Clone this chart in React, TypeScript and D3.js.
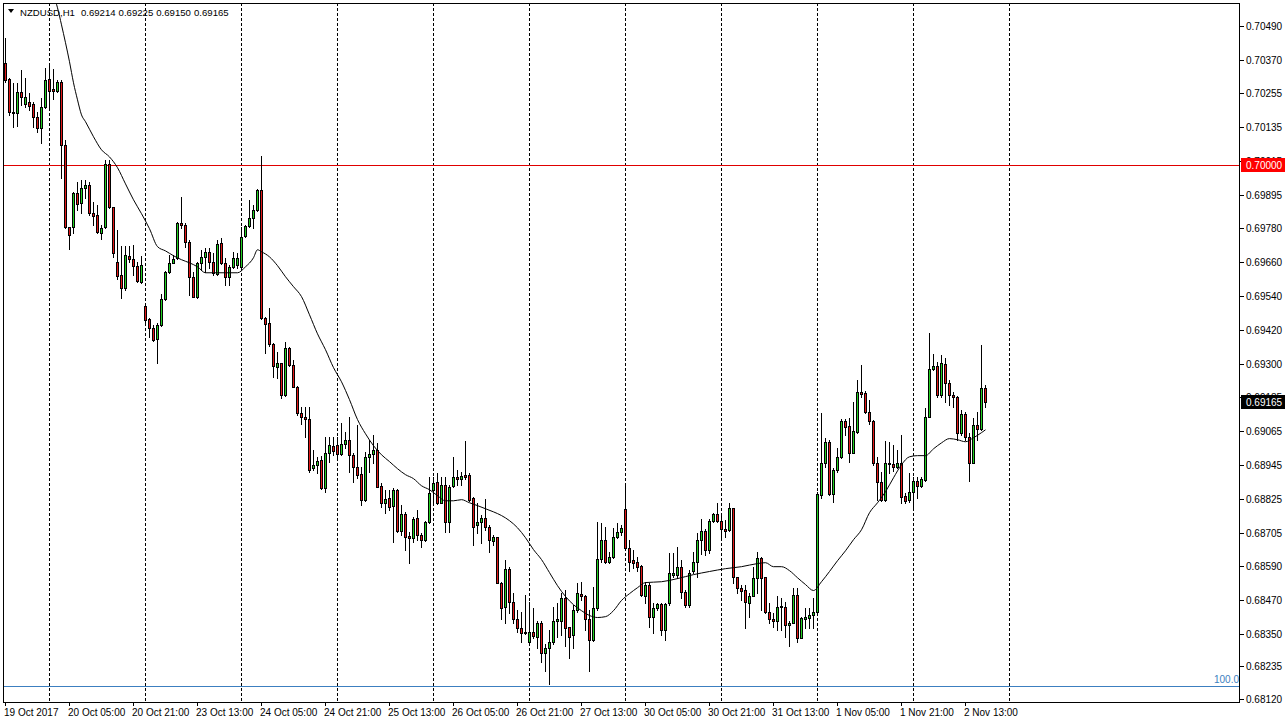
import * as d3 from "d3";

// NZDUSD H1, 19 Oct 2017 13:00 .. 2 Nov 2017 18:00 (bar index 0..245)
const opens = [
  0.7036, 0.70304, 0.70188, 0.70184, 0.70258, 0.70216, 0.70223, 0.70216, 0.7017, 0.70131,
  0.70205, 0.70304, 0.70269, 0.70262, 0.70293, 0.70072, 0.69783, 0.69783, 0.69903, 0.69867,
  0.6992, 0.69931, 0.69832, 0.69825, 0.69762, 0.69783, 0.70005, 0.69853, 0.6966, 0.69614,
  0.69568, 0.69681, 0.6967, 0.69646, 0.69589, 0.69505, 0.69459, 0.69427, 0.69389, 0.69438,
  0.6953, 0.69625, 0.69656, 0.69674, 0.69797, 0.6979, 0.6973, 0.69607, 0.69537, 0.69656,
  0.69677, 0.69695, 0.6966, 0.69618, 0.69727, 0.69656, 0.69607, 0.69642, 0.69649, 0.69642,
  0.69751, 0.69786, 0.69815, 0.69843, 0.69913, 0.69463, 0.69445, 0.69371, 0.6929, 0.69304,
  0.69192, 0.69357, 0.69297, 0.6922, 0.69128, 0.69114, 0.69107, 0.68935, 0.68945, 0.68963,
  0.68864, 0.68987, 0.69012, 0.69016, 0.68984, 0.69019, 0.69033, 0.6898, 0.68938, 0.68913,
  0.68822, 0.68973, 0.68984, 0.68998, 0.68871, 0.68811, 0.68829, 0.68801, 0.68857, 0.68713,
  0.68773, 0.68695, 0.68688, 0.68759, 0.68699, 0.68681, 0.68745, 0.68857, 0.68885, 0.68811,
  0.68875, 0.68745, 0.68871, 0.68903, 0.68896, 0.6891, 0.6891, 0.68829, 0.68731, 0.68745,
  0.68759, 0.68727, 0.68678, 0.68692, 0.6853, 0.68445, 0.68579, 0.68463, 0.68403, 0.68371,
  0.68357, 0.68319, 0.68357, 0.6834, 0.68389, 0.68283, 0.68301, 0.68319, 0.68393, 0.68396,
  0.68477, 0.68375, 0.68347, 0.68435, 0.68491, 0.68484, 0.684, 0.68329, 0.68442, 0.68614,
  0.68681, 0.68604, 0.68621, 0.68692, 0.68709, 0.6879, 0.68653, 0.68611, 0.68604, 0.6859,
  0.68484, 0.68523, 0.6841, 0.68442, 0.68456, 0.68364, 0.68459, 0.68558, 0.68558, 0.68586,
  0.68498, 0.68452, 0.68569, 0.68604, 0.68681, 0.68713, 0.68643, 0.68748, 0.68773, 0.68748,
  0.6872, 0.68716, 0.68794, 0.68551, 0.68512, 0.68505, 0.68459, 0.68484, 0.68547, 0.68618,
  0.68551, 0.68428, 0.68403, 0.68393, 0.68445, 0.68445, 0.68382, 0.68389, 0.68488, 0.68336,
  0.68403, 0.68407, 0.68417, 0.68428, 0.6884, 0.68952, 0.69026, 0.68843, 0.68928, 0.68973,
  0.691, 0.69083, 0.68987, 0.69061, 0.69202, 0.69199, 0.69132, 0.691, 0.68952, 0.68885,
  0.68822, 0.68952, 0.68949, 0.68938, 0.68952, 0.68836, 0.68822, 0.6885, 0.68889, 0.68871,
  0.68892, 0.69114, 0.69283, 0.69294, 0.69192, 0.69301, 0.69234, 0.69192, 0.69185, 0.69058,
  0.69125, 0.69044, 0.68952, 0.69086, 0.69072, 0.69214,
];
const highs = [
  0.70448, 0.70307, 0.7029, 0.7029, 0.70336, 0.70307, 0.70255, 0.70223, 0.70188, 0.70237,
  0.70343, 0.7036, 0.70339, 0.703, 0.703, 0.70089, 0.69783, 0.69906, 0.69941, 0.69948,
  0.69948, 0.69941, 0.69871, 0.6986, 0.6979, 0.70019, 0.70019, 0.69853, 0.69772, 0.69716,
  0.69716, 0.69716, 0.6972, 0.6966, 0.69681, 0.69515, 0.69463, 0.69438, 0.69445, 0.69547,
  0.69628, 0.69684, 0.69684, 0.69801, 0.69889, 0.69797, 0.69737, 0.69625, 0.6966, 0.69702,
  0.69709, 0.69709, 0.69691, 0.69737, 0.69744, 0.69674, 0.69649, 0.69695, 0.69691, 0.69783,
  0.6979, 0.69878, 0.6986, 0.69917, 0.70033, 0.69466, 0.69498, 0.69375, 0.69343, 0.69304,
  0.69378, 0.69361, 0.69315, 0.69223, 0.69149, 0.69149, 0.69149, 0.68998, 0.68973, 0.68977,
  0.69044, 0.69044, 0.69044, 0.69044, 0.69093, 0.69061, 0.69114, 0.68987, 0.69086, 0.68938,
  0.68991, 0.69033, 0.69051, 0.69023, 0.68882, 0.68857, 0.68857, 0.68864, 0.68861, 0.68804,
  0.6878, 0.68709, 0.68762, 0.68787, 0.68706, 0.68748, 0.68903, 0.68903, 0.68917, 0.68903,
  0.68903, 0.68875, 0.68973, 0.68928, 0.68921, 0.6903, 0.68917, 0.68833, 0.68811, 0.68769,
  0.68825, 0.68734, 0.68699, 0.68692, 0.68533, 0.68611, 0.68586, 0.68495, 0.68435, 0.68428,
  0.68488, 0.68463, 0.68442, 0.68393, 0.68393, 0.68312, 0.68364, 0.68445, 0.68459, 0.68495,
  0.68505, 0.68375, 0.68452, 0.6853, 0.68533, 0.68488, 0.68435, 0.68516, 0.68745, 0.68741,
  0.68727, 0.68639, 0.68723, 0.68741, 0.68734, 0.68875, 0.68681, 0.68646, 0.68621, 0.68593,
  0.68533, 0.6853, 0.68459, 0.68459, 0.68459, 0.68459, 0.68635, 0.68635, 0.68657, 0.68611,
  0.68505, 0.68576, 0.68639, 0.68706, 0.68755, 0.6872, 0.68755, 0.68776, 0.68811, 0.68776,
  0.68752, 0.68811, 0.68794, 0.68551, 0.68523, 0.68523, 0.68495, 0.68586, 0.68639, 0.68621,
  0.68551, 0.68459, 0.68424, 0.68481, 0.68477, 0.68463, 0.68393, 0.68512, 0.68512, 0.6841,
  0.68442, 0.68442, 0.68477, 0.6885, 0.69128, 0.6904, 0.69033, 0.68935, 0.69005, 0.69107,
  0.69107, 0.69111, 0.69167, 0.69244, 0.69297, 0.69206, 0.69174, 0.69104, 0.68973, 0.68921,
  0.6903, 0.69026, 0.69016, 0.68998, 0.69051, 0.68847, 0.68917, 0.68903, 0.68903, 0.68903,
  0.69146, 0.6941, 0.69336, 0.69308, 0.69332, 0.69322, 0.69244, 0.69202, 0.69188, 0.69139,
  0.69132, 0.69058, 0.69111, 0.69132, 0.69368, 0.69225,
];
const lows = [
  0.70293, 0.70177, 0.70135, 0.70139, 0.70212, 0.70205, 0.70195, 0.70135, 0.70117, 0.70079,
  0.70202, 0.70202, 0.70233, 0.70258, 0.69955, 0.69779, 0.69706, 0.69762, 0.69843, 0.69832,
  0.69885, 0.69825, 0.6979, 0.69762, 0.69741, 0.69779, 0.6985, 0.69677, 0.696, 0.69533,
  0.69561, 0.6966, 0.69614, 0.69589, 0.69586, 0.69449, 0.69396, 0.69382, 0.69304, 0.69435,
  0.69526, 0.69621, 0.69656, 0.6967, 0.69779, 0.69713, 0.69544, 0.69537, 0.69533, 0.69632,
  0.69625, 0.69639, 0.69614, 0.69614, 0.69653, 0.69579, 0.69579, 0.69639, 0.69639, 0.69639,
  0.69748, 0.69783, 0.69779, 0.69839, 0.69459, 0.69339, 0.69364, 0.69255, 0.69251, 0.69181,
  0.69188, 0.69294, 0.6922, 0.69121, 0.6909, 0.69044, 0.68921, 0.68928, 0.68917, 0.68861,
  0.6885, 0.68956, 0.6898, 0.68963, 0.6898, 0.69005, 0.68921, 0.68885, 0.68899, 0.68804,
  0.68818, 0.68921, 0.68952, 0.68868, 0.68797, 0.68776, 0.68787, 0.68674, 0.68709, 0.68699,
  0.68646, 0.686, 0.68674, 0.68681, 0.68657, 0.68678, 0.68741, 0.68811, 0.68808, 0.68811,
  0.68709, 0.68709, 0.68868, 0.68875, 0.68875, 0.68896, 0.68818, 0.68664, 0.68706, 0.68671,
  0.68716, 0.68639, 0.68664, 0.68528, 0.684, 0.68389, 0.68424, 0.68389, 0.68357, 0.68322,
  0.6835, 0.68319, 0.68336, 0.68301, 0.68252, 0.68217, 0.68174, 0.68312, 0.6834, 0.68347,
  0.68305, 0.68266, 0.68301, 0.68428, 0.6847, 0.68364, 0.6822, 0.68326, 0.68435, 0.68604,
  0.686, 0.686, 0.68618, 0.68688, 0.68699, 0.68646, 0.68569, 0.68583, 0.68569, 0.68481,
  0.68459, 0.68375, 0.68354, 0.68435, 0.68347, 0.68329, 0.68452, 0.68551, 0.68547, 0.68477,
  0.68445, 0.68445, 0.68565, 0.68551, 0.68632, 0.68628, 0.68635, 0.68745, 0.68745, 0.68681,
  0.68692, 0.68713, 0.6853, 0.68495, 0.6847, 0.68371, 0.6841, 0.68481, 0.68495, 0.68435,
  0.68424, 0.68389, 0.68375, 0.68364, 0.68364, 0.6834, 0.68305, 0.68389, 0.68319, 0.68336,
  0.68371, 0.68371, 0.68371, 0.68417, 0.68829, 0.68938, 0.6884, 0.68815, 0.68921, 0.6897,
  0.69051, 0.68956, 0.68987, 0.69058, 0.69185, 0.69128, 0.6909, 0.68945, 0.68822, 0.68818,
  0.68818, 0.68917, 0.68924, 0.68935, 0.68811, 0.68811, 0.68815, 0.68787, 0.68829, 0.68868,
  0.68889, 0.69114, 0.6928, 0.69185, 0.69185, 0.69167, 0.69156, 0.69149, 0.69033, 0.69051,
  0.69033, 0.68889, 0.68952, 0.69033, 0.69068, 0.6915,
];
const closes = [
  0.703, 0.70188, 0.70184, 0.70258, 0.70241, 0.70241, 0.70209, 0.7017, 0.70131, 0.70205,
  0.703, 0.70262, 0.70262, 0.70293, 0.70072, 0.69783, 0.69755, 0.69903, 0.69864, 0.6992,
  0.69931, 0.69832, 0.69822, 0.69765, 0.69779, 0.70005, 0.69853, 0.69691, 0.6961, 0.69568,
  0.69684, 0.6967, 0.69646, 0.69593, 0.69649, 0.69456, 0.69427, 0.69385, 0.69438, 0.6953,
  0.69625, 0.69656, 0.6967, 0.69797, 0.6979, 0.6973, 0.69607, 0.69537, 0.69656, 0.69677,
  0.69695, 0.6966, 0.69621, 0.69723, 0.69656, 0.69607, 0.69642, 0.69674, 0.69674, 0.69748,
  0.69786, 0.69815, 0.69843, 0.69913, 0.69463, 0.69442, 0.69371, 0.69294, 0.69304, 0.69192,
  0.69357, 0.69297, 0.6922, 0.69128, 0.69114, 0.69107, 0.68928, 0.68945, 0.68959, 0.68864,
  0.68987, 0.69016, 0.68994, 0.68984, 0.69019, 0.69033, 0.6898, 0.68938, 0.6891, 0.68822,
  0.68973, 0.68984, 0.68998, 0.68868, 0.68811, 0.68825, 0.68797, 0.68857, 0.68713, 0.68773,
  0.68692, 0.68688, 0.68755, 0.68699, 0.68681, 0.68745, 0.68847, 0.68882, 0.68811, 0.68875,
  0.68745, 0.68868, 0.68903, 0.68896, 0.68907, 0.68903, 0.68822, 0.68727, 0.68745, 0.68759,
  0.68727, 0.68681, 0.68692, 0.6853, 0.68442, 0.68579, 0.68463, 0.68403, 0.68371, 0.68354,
  0.68354, 0.68357, 0.68343, 0.68389, 0.68283, 0.68301, 0.68319, 0.68393, 0.68403, 0.68477,
  0.68371, 0.6834, 0.68435, 0.68495, 0.68481, 0.684, 0.68329, 0.68442, 0.68614, 0.68681,
  0.68604, 0.68621, 0.68692, 0.68709, 0.68723, 0.68653, 0.68604, 0.686, 0.68586, 0.68488,
  0.68523, 0.6841, 0.68442, 0.68456, 0.68364, 0.68456, 0.68565, 0.68565, 0.68586, 0.68498,
  0.68452, 0.68565, 0.68604, 0.68681, 0.68713, 0.68643, 0.68748, 0.68773, 0.68748, 0.6872,
  0.68713, 0.68794, 0.68551, 0.68512, 0.68502, 0.68463, 0.68484, 0.68547, 0.68618, 0.68547,
  0.68428, 0.684, 0.68393, 0.68445, 0.68449, 0.68382, 0.68389, 0.68488, 0.68336, 0.68407,
  0.6841, 0.68417, 0.68428, 0.68843, 0.68952, 0.69026, 0.68843, 0.68928, 0.68973, 0.691,
  0.69079, 0.68987, 0.69065, 0.69202, 0.69195, 0.69132, 0.691, 0.68952, 0.68885, 0.68822,
  0.68952, 0.68949, 0.68938, 0.68952, 0.68833, 0.68818, 0.6885, 0.68889, 0.68871, 0.68896,
  0.69114, 0.69283, 0.69294, 0.69192, 0.69304, 0.69234, 0.69192, 0.69185, 0.69058, 0.69125,
  0.69044, 0.68952, 0.69086, 0.69072, 0.69216, 0.69165,
];

// moving average, read at bar indices
const maBars = [
  12, 13, 14, 15, 16, 17, 18, 19, 20, 22, 24, 26, 28, 30, 32, 34, 36, 38, 40, 42,
  44, 46, 48, 50, 52, 55, 58, 60, 62, 63, 64, 66, 68, 70, 72, 74, 76, 78, 80, 82,
  84, 86, 88, 90, 92, 94, 96, 98, 100, 102, 104, 106, 108, 110, 112, 114, 116, 118, 120, 122,
  124, 126, 128, 130, 132, 134, 136, 138, 140, 142, 144, 146, 148, 150, 152, 154, 156, 158, 160, 164,
  168, 172, 176, 180, 184, 188, 190, 192, 194, 196, 198, 200, 202, 204, 206, 208, 210, 212, 214, 216,
  218, 220, 222, 224, 226, 228, 230, 232, 234, 236, 238, 240, 242, 244, 245,
];
const maValues = [
  0.706, 0.70554, 0.70494, 0.70431, 0.70364, 0.7029, 0.7023, 0.70177, 0.70153, 0.701,
  0.70054, 0.70029, 0.69991, 0.69934, 0.69878, 0.69829, 0.69776, 0.69713, 0.69698, 0.69681,
  0.69667, 0.69656, 0.69642, 0.69621, 0.69621, 0.69621, 0.69621, 0.69642, 0.69674, 0.69702,
  0.69695, 0.69677, 0.69646, 0.69607, 0.69572, 0.69537, 0.69473, 0.69406, 0.6935, 0.69287,
  0.69237, 0.69174, 0.69104, 0.69054, 0.69012, 0.6898, 0.68956, 0.68931, 0.6891, 0.68896,
  0.68871, 0.68857, 0.68836, 0.68818, 0.68818, 0.68822, 0.68811, 0.68801, 0.6879, 0.68779,
  0.68766, 0.68748, 0.68723, 0.68688, 0.68646, 0.68611, 0.68565, 0.68519, 0.68481, 0.68452,
  0.68431, 0.68414, 0.68407, 0.6841, 0.68431, 0.68467, 0.68491, 0.68512, 0.6853, 0.68533,
  0.68544, 0.68558, 0.68569, 0.68579, 0.68586, 0.68597, 0.686, 0.68586, 0.68586, 0.68572,
  0.68547, 0.68523, 0.68502, 0.68533, 0.68569, 0.68607, 0.68642, 0.68681, 0.68716, 0.68776,
  0.68811, 0.6885, 0.68899, 0.68945, 0.68973, 0.68977, 0.68977, 0.69001, 0.69022, 0.69037,
  0.69033, 0.69026, 0.6904, 0.69058, 0.69068,
];

const priceTicks = [
  0.7049, 0.7037, 0.70255, 0.70135, 0.70015, 0.69895, 0.6978, 0.6966, 0.6954, 0.6942,
  0.693, 0.69185, 0.69065, 0.68945, 0.68825, 0.68705, 0.6859, 0.6847, 0.6835, 0.68235, 0.6812,
];
const timeTickBars = [0, 16, 32, 48, 64, 80, 96, 112, 128, 144, 160, 176, 192, 208, 224, 240];
const timeTickLabels = [
  "19 Oct 2017", "20 Oct 05:00", "20 Oct 21:00", "23 Oct 13:00", "24 Oct 05:00", "24 Oct 21:00",
  "25 Oct 13:00", "26 Oct 05:00", "26 Oct 21:00", "27 Oct 13:00", "30 Oct 05:00", "30 Oct 21:00",
  "31 Oct 13:00", "1 Nov 05:00", "1 Nov 21:00", "2 Nov 13:00",
];
const daySeparatorBars = [11, 35, 59, 83, 107, 131, 155, 179, 203, 227, 251];
const headerValues = ["0.69214", "0.69225", "0.69150", "0.69165"];
const levelLine = 0.7;
const fibLevel = 0.68165;
const lastPrice = 0.69165;

const font = "'Liberation Sans', Arial, sans-serif";

export default function App() {
  const W = 1286;
  const H = 725;
  const left = 3;
  const right = 1240;
  const top = 3;
  const bottom = 702;

  const x = d3.scaleLinear().domain([0, 245]).range([5, 985]);
  const y = d3.scaleLinear().domain([0.6812, 0.7049]).range([699, 26]);
  const px = (i: number) => Math.round(x(i));

  const ma = d3
    .line<number>()
    .x((_, k) => x(maBars[k]) + 0.5)
    .y((v) => y(v))
    .curve(d3.curveMonotoneX)(maValues);

  return (
    <svg
      width={W}
      height={H}
      style={{ position: "fixed", left: 0, top: 0, display: "block" }}
      fontFamily={font}
    >
      <rect width={W} height={H} fill="#ffffff" />
      <defs>
        <clipPath id="plot">
          <rect x={left} y={top} width={right - left} height={bottom - top} />
        </clipPath>
      </defs>

      <g clipPath="url(#plot)">
        {/* day separators */}
        {daySeparatorBars.map((b) => (
          <line
            key={b}
            x1={px(b) + 0.5}
            x2={px(b) + 0.5}
            y1={top}
            y2={bottom}
            stroke="#000"
            strokeDasharray="3,2"
            shapeRendering="crispEdges"
          />
        ))}

        {/* 0.70000 level */}
        <line
          x1={left}
          x2={right}
          y1={Math.round(y(levelLine)) + 0.5}
          y2={Math.round(y(levelLine)) + 0.5}
          stroke="#e00000"
          shapeRendering="crispEdges"
        />
        {/* fibo 100.0 */}
        <line
          x1={left}
          x2={right}
          y1={Math.round(y(fibLevel)) + 0.5}
          y2={Math.round(y(fibLevel)) + 0.5}
          stroke="#3c7fc0"
          shapeRendering="crispEdges"
        />
        <text
          x={right - 1}
          y={Math.round(y(fibLevel)) - 3}
          textAnchor="end"
          fontSize={10}
          fill="#3c7fc0"
        >
          100.0
        </text>

        {/* candles */}
        {opens.map((o, i) => {
          const c = closes[i];
          const cx = px(i);
          const yTop = Math.round(y(Math.max(o, c)));
          const yBot = Math.round(y(Math.min(o, c)));
          return (
            <g key={i} shapeRendering="crispEdges">
              <line
                x1={cx + 0.5}
                x2={cx + 0.5}
                y1={Math.round(y(highs[i]))}
                y2={Math.round(y(lows[i])) + 1}
                stroke="#000"
              />
              <rect
                x={cx - 1 + 0.5}
                y={yTop + 0.5}
                width={2}
                height={Math.max(0, yBot - yTop)}
                fill={c >= o ? "#22d022" : "#e21818"}
                stroke="#000"
              />
            </g>
          );
        })}

        {/* moving average */}
        <path d={ma ?? ""} fill="none" stroke="#000" strokeWidth={1} />
      </g>

      {/* frame */}
      <rect
        x={left + 0.5}
        y={top + 0.5}
        width={right - left - 1}
        height={bottom - top}
        fill="none"
        stroke="#000"
        shapeRendering="crispEdges"
      />

      {/* header */}
      <path d="M8,9 L14,9 L11,13 Z" fill="#000" />
      <text x={20} y={16} fontSize={9.6} fill="#000">
        <tspan>NZDUSD,H1</tspan>
        {headerValues.map((v, k) => (
          <tspan key={k} dx={k === 0 ? 6 : 3}>
            {v}
          </tspan>
        ))}
      </text>

      {/* price axis */}
      {priceTicks.map((p) => {
        const ty = Math.round(y(p));
        return (
          <g key={p}>
            <line x1={right} x2={right + 4} y1={ty + 0.5} y2={ty + 0.5} stroke="#000" shapeRendering="crispEdges" />
            <text x={1246} y={ty} dy="0.35em" fontSize={10} fill="#000">
              {p.toFixed(5)}
            </text>
          </g>
        );
      })}

      {/* level label */}
      <rect x={right + 1} y={Math.round(y(levelLine)) - 7} width={44} height={14} fill="#ff0000" />
      <text x={1246} y={Math.round(y(levelLine))} dy="0.35em" fontSize={10} fill="#fff">
        {levelLine.toFixed(5)}
      </text>
      {/* last price label */}
      <rect x={right + 1} y={Math.round(y(lastPrice)) - 7} width={44} height={14} fill="#000" />
      <text x={1246} y={Math.round(y(lastPrice))} dy="0.35em" fontSize={10} fill="#fff">
        {lastPrice.toFixed(5)}
      </text>

      {/* time axis */}
      {timeTickBars.map((b, k) => (
        <g key={b}>
          <line x1={px(b) + 0.5} x2={px(b) + 0.5} y1={bottom} y2={bottom + 4} stroke="#000" shapeRendering="crispEdges" />
          <text x={px(b) - 1} y={716} fontSize={10} fill="#000">
            {timeTickLabels[k]}
          </text>
        </g>
      ))}
    </svg>
  );
}
